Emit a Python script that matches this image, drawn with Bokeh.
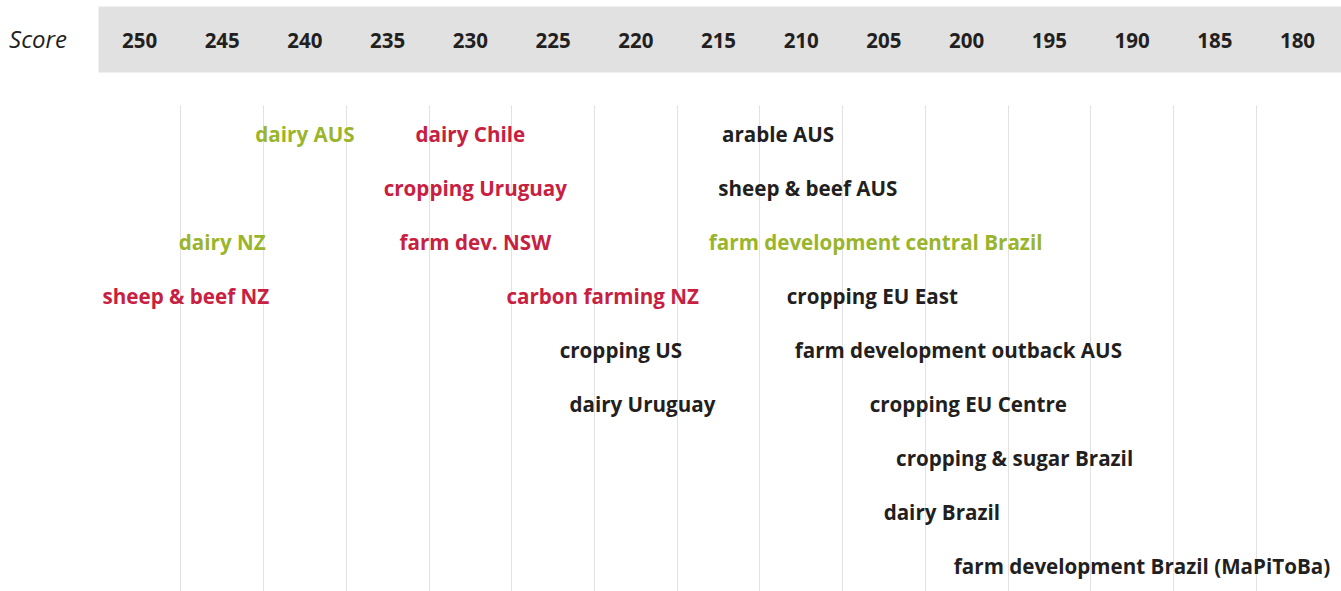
from bokeh.plotting import figure
from bokeh.layouts import row
from bokeh.models import Range1d, LinearAxis, FixedTicker, Grid, ColumnDataSource
from bokeh.core.properties import value
from bokeh.embed import file_html
from bokeh.resources import INLINE

# ---- data -------------------------------------------------------------
labels = [
    "dairy AUS", "dairy Chile", "arable AUS",
    "cropping Uruguay", "sheep & beef AUS",
    "dairy NZ", "farm dev. NSW", "farm development central Brazil",
    "sheep & beef NZ", "carbon farming NZ", "cropping EU East",
    "cropping US", "farm development outback AUS",
    "dairy Uruguay", "cropping EU Centre",
    "cropping & sugar Brazil",
    "dairy Brazil",
    "farm development Brazil (MaPiToBa)",
]
scores = [
    240.0, 230.0, 211.4,
    229.7, 209.6,
    245.0, 229.7, 205.5,
    247.2, 222.0, 205.7,
    220.9, 200.5,
    219.6, 199.9,
    197.1,
    201.5,
    189.4,
]
rows = [1, 1, 1, 2, 2, 3, 3, 3, 4, 4, 4, 5, 5, 6, 6, 7, 8, 9]
groups = [
    "green", "red", "dark",
    "red", "dark",
    "green", "red", "green",
    "red", "red", "dark",
    "dark", "dark",
    "dark", "dark",
    "dark",
    "dark",
    "dark",
]
ticks = [250, 245, 240, 235, 230, 225, 220, 215, 210, 205, 200, 195, 190, 185, 180]
tick_labels = ["250", "245", "240", "235", "230", "225", "220", "215", "210",
               "205", "200", "195", "190", "185", "180"]
axis_title = "Score"

# ---- styles -----------------------------------------------------------
COLORS = {"green": "#9ab52c", "red": "#c8203f", "dark": "#231f20"}
FONT = "Open Sans"
TOTAL_W, H = 1341, 591
LEFT = 98
TOP = 72
ROW_PX = 54.0
X_START, X_END = 252.48, 177.34

W = TOTAL_W - LEFT
frame_h = H - TOP
y_top = 1 - 61 / ROW_PX
y_bot = y_top + frame_h / ROW_PX
grid_top = y_top + 33 / ROW_PX


def header_axis(ticker, overrides):
    ax = LinearAxis(ticker=ticker, major_label_overrides=overrides)
    ax.axis_line_color = None
    ax.major_tick_line_color = None
    ax.minor_tick_line_color = None
    ax.major_tick_out = 0
    ax.major_tick_in = 0
    ax.major_label_text_font = FONT
    ax.major_label_text_color = "#231f20"
    return ax


# ---- left strip with the "Score" caption ------------------------------
pl = figure(width=LEFT, height=H, x_range=Range1d(0, LEFT), y_range=Range1d(0, 1),
            x_axis_location=None, y_axis_location=None,
            toolbar_location=None, output_backend="svg",
            min_border_left=0, min_border_right=0,
            min_border_top=TOP, min_border_bottom=0)
pl.outline_line_color = None
pl.grid.visible = False
cap = header_axis(FixedTicker(ticks=[37.5]), {37.5: axis_title})
cap.major_label_text_font_style = "italic"
cap.major_label_text_font_size = "24px"
cap.major_label_standoff = 18
pl.add_layout(cap, "above")

# ---- main chart -------------------------------------------------------
p = figure(width=W, height=H,
           x_range=Range1d(X_START, X_END), y_range=Range1d(y_bot, y_top),
           x_axis_location=None, y_axis_location=None,
           toolbar_location=None, output_backend="svg",
           min_border_left=0, min_border_right=0,
           min_border_top=TOP, min_border_bottom=0)
p.outline_line_color = None
p.grid.visible = False

ax = header_axis(FixedTicker(ticks=ticks),
                 {t: s for t, s in zip(ticks, tick_labels)})
ax.major_label_text_font_style = "bold"
ax.major_label_text_font_size = "20.5px"
ax.major_label_standoff = 25
ax.axis_label = " "
ax.axis_label_text_font_size = "18px"
ax.axis_label_standoff = 0
if "background_fill_color" in ax.properties():
    ax.background_fill_color = "#e1e1e1"
p.add_layout(ax, "above")

grid_pos = [(a + b) / 2 for a, b in zip(ticks[:-1], ticks[1:])]
g = Grid(dimension=0, ticker=FixedTicker(ticks=grid_pos),
         grid_line_color="#e2e2e2", grid_line_width=1)
if "cross_bounds" in g.properties():
    g.cross_bounds = (grid_top, y_bot)
p.add_layout(g)

src = ColumnDataSource(dict(x=scores, y=rows, text=labels,
                            color=[COLORS[k] for k in groups]))
p.text(x="x", y="y", text="text", source=src, text_color="color",
       text_font=value(FONT), text_font_style="bold", text_font_size="20.6px",
       text_align="center", text_baseline="middle")

layout = row(pl, p, spacing=0)
open("out.html", "w").write(file_html(layout, INLINE))
